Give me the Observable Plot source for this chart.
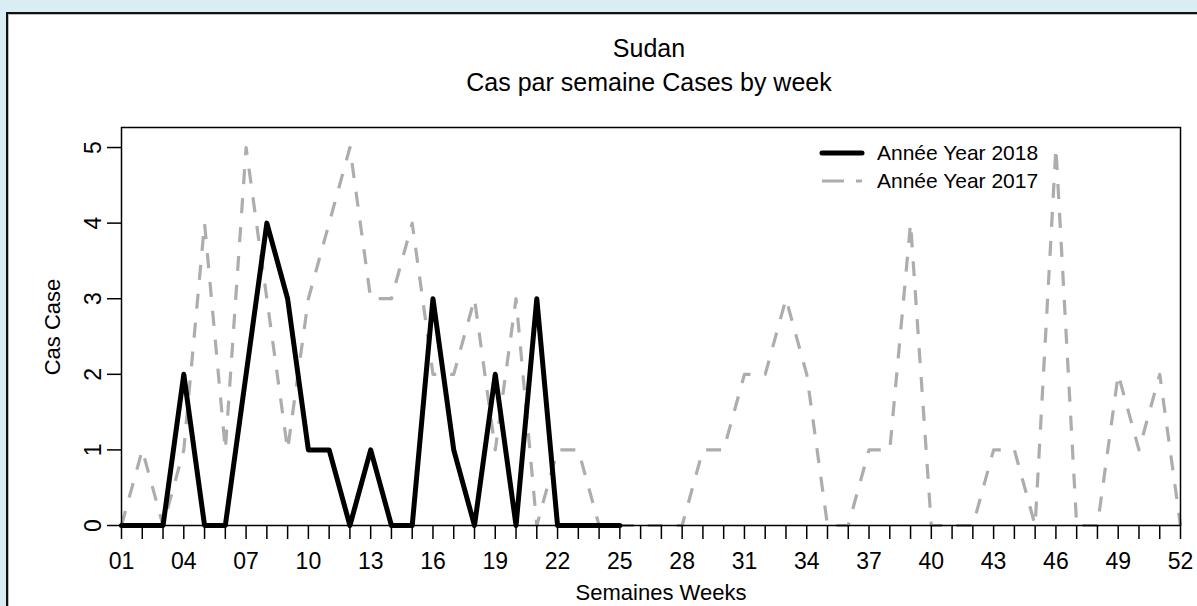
<!DOCTYPE html>
<html>
<head>
<meta charset="utf-8">
<script src="https://cdn.jsdelivr.net/npm/d3@7"></script>
<script src="https://cdn.jsdelivr.net/npm/@observablehq/plot@0.6"></script>
<style>
  html, body { margin: 0; padding: 0; }
  body { width: 1197px; height: 606px; overflow: hidden; background: #daedf3; font-family: "Liberation Sans", Arial, sans-serif; }
  #page { position: relative; width: 1197px; height: 606px; }
  #panel { position: absolute; left: 6px; top: 12px; width: 1300px; height: 700px; background: #fff; border-left: 2px solid #111; border-top: 2px solid #111; box-shadow: inset 1px 1px 0 #bbb; }
  #chart { position: absolute; left: 0; top: 0; }
  .t { position: absolute; color: #000; white-space: nowrap; }
  #title { left: 649px; top: 34px; transform: translateX(-50%); font-size: 25px; }
  #subtitle { left: 649px; top: 68px; transform: translateX(-50%); font-size: 25px; }
  #xlab { left: 661px; top: 580px; transform: translateX(-50%); font-size: 22px; }
  #ylab { left: 53px; top: 327px; transform: translate(-50%, -50%) rotate(-90deg); font-size: 22px; }
  #legend { position: absolute; left: 818px; top: 139px; font-size: 21px; }
  #legend .row { display: flex; align-items: center; height: 28px; }
  #legend svg { width: 58px; height: 12px; margin-right: 1px; }
</style>
</head>
<body>
<div id="page">
  <div id="panel"></div>
  <div id="chart"></div>
  <div class="t" id="title">Sudan</div>
  <div class="t" id="subtitle">Cas par semaine Cases by week</div>
  <div class="t" id="xlab">Semaines Weeks</div>
  <div class="t" id="ylab">Cas Case</div>
  <div id="legend"></div>
</div>
<script>
// Data
const weeks2018 = [1,2,3,4,5,6,7,8,9,10,11,12,13,14,15,16,17,18,19,20,21,22,23,24,25];
const cases2018 = [0,0,0,2,0,0,2,4,3,1,1,0,1,0,0,3,1,0,2,0,3,0,0,0,0];
const weeks2017 = d3.range(1, 53);
const cases2017 = [0,1,0,1,4,1,5,3,1,3,4,5,3,3,4,2,2,3,1,3,0,1,1,0,0,0,0,0,1,1,2,2,3,2,0,0,1,1,4,0,0,0,1,1,0,5,0,0,2,1,2,0];
const seriesNames = ["Année Year 2018", "Année Year 2017"];
const yTicks = [0,1,2,3,4,5];
const xTicks = d3.range(1, 53);
const xLabelEvery = 3;

const data2018 = weeks2018.map((w, i) => ({week: w, cases: cases2018[i]}));
const data2017 = weeks2017.map((w, i) => ({week: w, cases: cases2017[i]}));

const grey = "#adadad";
const dash = "15,14";

const chart = Plot.plot({
  width: 1197,
  height: 606,
  marginLeft: 121,
  marginRight: 17,
  marginTop: 127,
  marginBottom: 81,
  style: {background: "transparent", fontFamily: "'Liberation Sans', Arial, sans-serif", color: "#000"},
  x: {domain: [1, 52]},
  y: {domain: [0, 5.265]},
  marks: [
    Plot.line(data2017, {x: "week", y: "cases", stroke: grey, strokeWidth: 3.2, strokeDasharray: dash, strokeLinejoin: "round", strokeLinecap: "butt"}),
    Plot.line(data2018, {x: "week", y: "cases", stroke: "#000", strokeWidth: 5, strokeLinejoin: "round", strokeLinecap: "round"}),
    Plot.axisX({ticks: xTicks, tickSize: 14, tickPadding: 13, fontSize: 23, stroke: "#000", strokeWidth: 1.5,
      tickFormat: d => ((d - 1) % xLabelEvery === 0 ? String(d).padStart(2, "0") : ""), label: null}),
    Plot.axisY({ticks: yTicks, tickSize: 14, tickFormat: () => "", stroke: "#000", strokeWidth: 1.5, label: null}),
    Plot.text(yTicks, {y: d => d, text: d => String(d), frameAnchor: "left", dx: -28, rotate: -90, fontSize: 23, textAnchor: "middle", fill: "#000"}),
    Plot.frame({stroke: "#000", strokeWidth: 1.5})
  ]
});
document.getElementById("chart").appendChild(chart);

// Legend
const legend = document.getElementById("legend");
const styles = [
  {stroke: "#000", width: 5, dash: null},
  {stroke: grey, width: 3.2, dash: "22,12"}
];
seriesNames.forEach((name, i) => {
  const s = styles[i];
  const row = document.createElement("div");
  row.className = "row";
  row.innerHTML = `<svg viewBox="0 0 58 12"><line x1="4" y1="6" x2="44" y2="6" stroke="${s.stroke}" stroke-width="${s.width}" stroke-linecap="${s.dash ? "butt" : "round"}" ${s.dash ? `stroke-dasharray="${s.dash}"` : ""}/></svg><span>${name}</span>`;
  legend.appendChild(row);
});
</script>
</body>
</html>
